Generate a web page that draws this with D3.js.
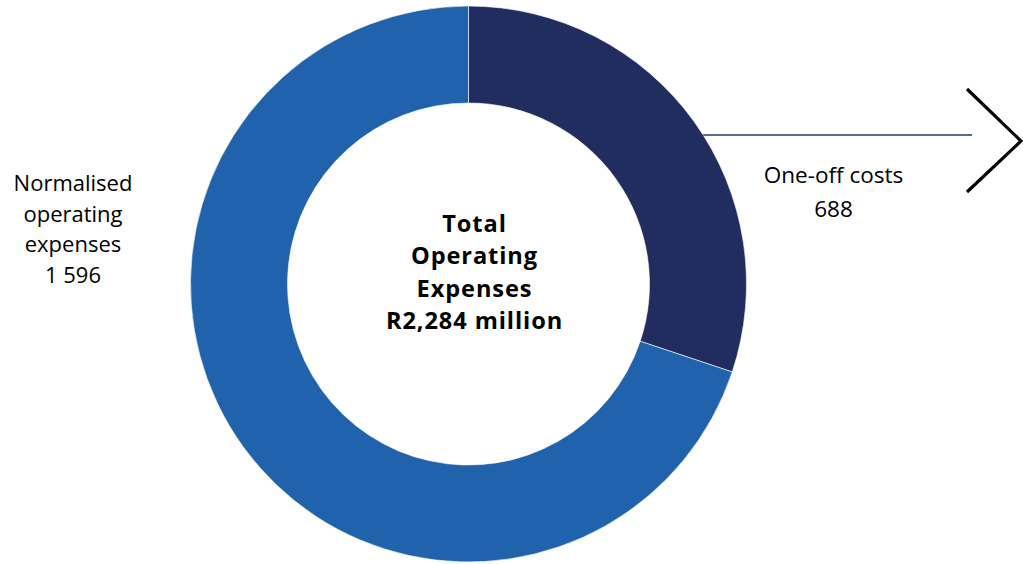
<!DOCTYPE html>
<html>
<head>
<meta charset="utf-8">
<script src="https://cdn.jsdelivr.net/npm/d3@7"></script>
<style>
  html, body { margin: 0; padding: 0; background: #ffffff; }
  svg { display: block; }
  text { font-family: "Open Sans", Lato, sans-serif; fill: #000; font-variant-ligatures: none; }
</style>
</head>
<body>
<svg id="chart" width="1023" height="564"></svg>
<script>
// Operating expense split (R million)
const categories = ["One-off costs", "Normalised operating expenses"];
const values = [688, 1596];
const colors = ["#222d5f", "#2162ad"];
const centerLines = ["Total", "Operating", "Expenses", "R2,284 million"];
const leftLabelLines = ["Normalised", "operating", "expenses", "1 596"];
const rightLabelLines = ["One-off costs", "688"];

const svg = d3.select("#chart");
const cx = 468.5, cy = 284;
const outerR = 278, innerR = 181;

const pie = d3.pie().sort(null).value(d => d.value);
const arc = d3.arc().innerRadius(innerR).outerRadius(outerR);

const data = categories.map((c, i) => ({ name: c, value: values[i], color: colors[i] }));

const g = svg.append("g").attr("transform", `translate(${cx},${cy})`);
g.selectAll("path")
  .data(pie(data))
  .join("path")
  .attr("d", arc)
  .attr("fill", d => d.data.color)
  .attr("stroke", "#ffffff")
  .attr("stroke-width", 0.6);

// centre caption
const ct = g.append("text")
  .attr("text-anchor", "middle")
  .attr("font-weight", "bold")
  .attr("font-size", 23.6)
  .attr("letter-spacing", 0.9);
centerLines.forEach((t, i) => {
  ct.append("tspan").attr("x", 6).attr("y", -52 + i * 32.3).text(t);
});

// leader line from the one-off slice out to the chevron
const leaderDy = -149;
const leaderX0 = cx + Math.sqrt(outerR * outerR - leaderDy * leaderDy);
const leaderY = cy + leaderDy;
svg.append("line")
  .attr("x1", leaderX0).attr("y1", leaderY)
  .attr("x2", 972).attr("y2", leaderY)
  .attr("stroke", "#5b6794")
  .attr("stroke-width", 2);

// chevron
svg.append("path")
  .attr("d", d3.line()([[967, leaderY - 46], [1021, leaderY + 6], [967, leaderY + 57]]))
  .attr("fill", "none")
  .attr("stroke", "#000")
  .attr("stroke-width", 3.2);

// slice labels
const rt = svg.append("text").attr("text-anchor", "middle").attr("font-size", 22.5);
rightLabelLines.forEach((t, i) => {
  rt.append("tspan").attr("x", 833.5).attr("y", 183 + i * 34).text(t);
});

const lt = svg.append("text").attr("text-anchor", "middle").attr("font-size", 22);
leftLabelLines.forEach((t, i) => {
  lt.append("tspan").attr("x", 73).attr("y", 191 + i * 30.5).text(t);
});
</script>
</body>
</html>
